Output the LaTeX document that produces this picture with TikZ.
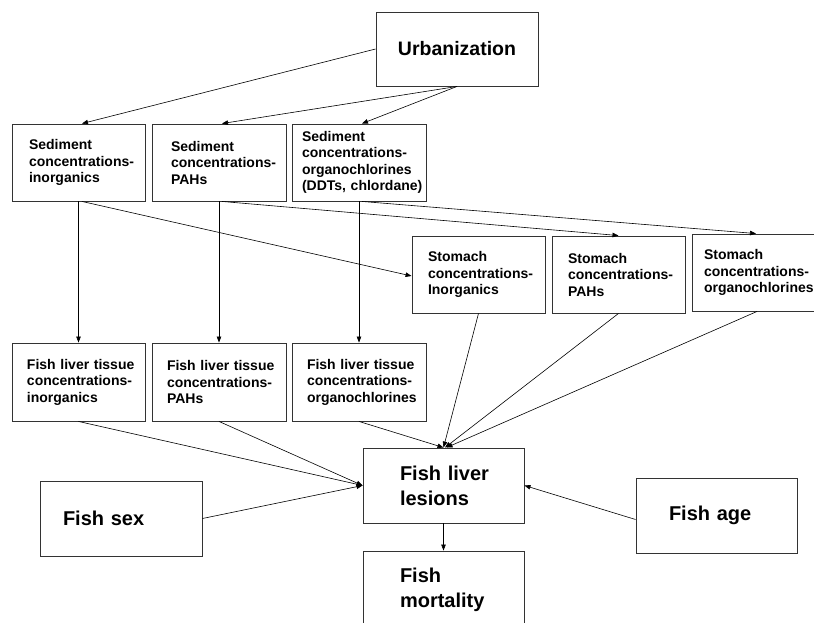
\documentclass[tikz,border=0pt]{standalone}
\usepackage{fontspec}
\setmainfont{Liberation Sans}
\usetikzlibrary{arrows.meta,calc}
\begin{document}
\begin{tikzpicture}[x=1pt,y=-1pt,
  box/.style={draw=black!80, line width=0.9pt, rectangle, inner xsep=0pt, inner ysep=0pt, align=left,
    font={\fontsize{14}{16.5}\selectfont\bfseries\hyphenpenalty=10000\exhyphenpenalty=10000}},
  bigbox/.style={box, font={\fontsize{20}{25}\selectfont\bfseries\hyphenpenalty=10000\exhyphenpenalty=10000}},
  conn/.style={-{Triangle[length=6pt,width=4.5pt]}, line width=0.6pt, black}]
\useasboundingbox (0,0) rectangle (814,623);

% Urbanization
\node[bigbox, align=center, font={\fontsize{19.5}{24}\selectfont\bfseries}, minimum width=162pt, minimum height=74pt] (U) at (457,49) {Urbanization};

% Sediment
\node[box, minimum width=133pt, minimum height=77pt, text width=99pt] (SI) at (78.5,162.5) {Sediment\\concentrations-\\inorganics};
\node[box, minimum width=134pt, minimum height=77pt, text width=96pt] (SP) at (219,162.5) {Sediment\\concentrations-\\PAHs};
\node[box, minimum width=134pt, minimum height=77pt, text width=114pt] (SO) at (359,162.5) {Sediment\\concentrations-\\organochlorines\\(DDTs,~chlordane)};

% Stomach
\node[box, minimum width=133pt, minimum height=77pt, text width=101pt] (STI) at (478.5,274.5) {Stomach\\concentrations-\\Inorganics};
\node[box, minimum width=133pt, minimum height=77pt, text width=101pt] (STP) at (618.5,274.5) {Stomach\\concentrations-\\PAHs};
\node[box, minimum width=134pt, minimum height=77pt, text width=110pt] (STO) at (759,272.5) {Stomach\\concentrations-\\organochlorines};

% Fish liver tissue
\node[box, minimum width=133pt, minimum height=78pt, text width=103pt] (FI) at (78.5,382) {Fish~liver~tissue\\concentrations-\\inorganics};
\node[box, minimum width=134pt, minimum height=78pt, text width=104pt] (FP) at (219,382) {Fish~liver~tissue\\concentrations-\\PAHs};
\node[box, minimum width=134pt, minimum height=78pt, text width=104pt] (FO) at (359,382) {Fish~liver~tissue\\concentrations-\\organochlorines};

% Bottom
\node[bigbox, minimum width=161pt, minimum height=75pt, text width=87pt] (L) at (443.5,485.5) {Fish~liver\\lesions};
\node[bigbox, minimum width=161pt, minimum height=78pt, text width=87pt] (M) at (443.5,590) {Fish\\mortality};
\node[bigbox, minimum width=162pt, minimum height=75pt, text width=116pt] (FS) at (121,518.5) {Fish~sex};
\node[bigbox, minimum width=161pt, minimum height=75pt, text width=95pt] (FA) at (716.5,515.5) {Fish~age};

% Connectors from Urbanization
\draw[conn] (U.west) -- ([xshift=3.5pt]SI.north);
\draw[conn] (U.south) -- ([xshift=3pt]SP.north);
\draw[conn] (U.south) -- ([xshift=3pt]SO.north);

% Sediment to fish liver
\draw[conn] (SI.south) -- (FI.north);
\draw[conn] (SP.south) -- (FP.north);
\draw[conn] (SO.south) -- (FO.north);

% Sediment to stomach
\draw[conn] ([xshift=3.5pt]SI.south) -- ([yshift=-1.5pt]STI.west);
\draw[conn] ([xshift=3pt]SP.south) -- (STP.north);
\draw[conn] ([xshift=3pt]SO.south) -- ([xshift=-3pt]STO.north);

% Into lesions
\draw[conn] (FI.south) -- (L.west);
\draw[conn] (FP.south) -- (L.west);
\draw[conn] (FS.east) -- (L.west);
\draw[conn] (FO.south) -- (L.north);
\draw[conn] (STI.south) -- (L.north);
\draw[conn] (STP.south) -- ([xshift=1.5pt]L.north);
\draw[conn] ([xshift=-2pt]STO.south) -- ([xshift=3pt]L.north);
\draw[conn] ([yshift=-4pt]FA.west) -- (L.east);
\draw[conn] (L.south) -- (M.north);
\end{tikzpicture}
\end{document}
